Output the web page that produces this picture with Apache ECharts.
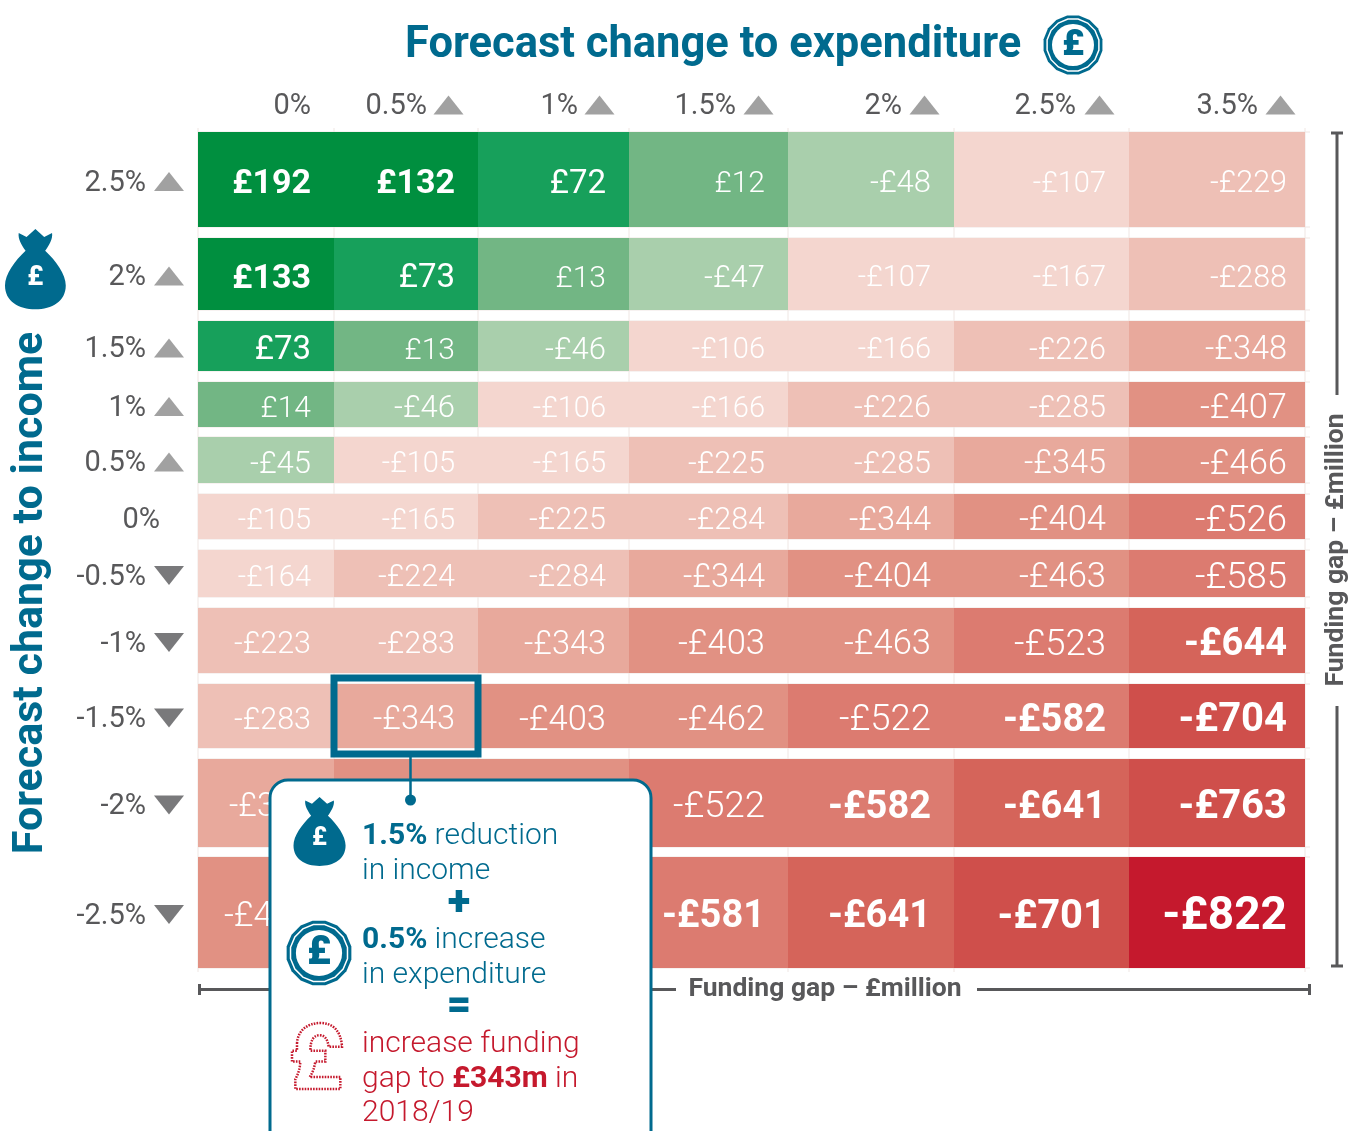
<!DOCTYPE html>
<html>
<head>
<meta charset="utf-8">
<style>html,body{margin:0;padding:0;background:#fff}#chart{width:1350px;height:1131px}</style>
<script src="https://cdn.jsdelivr.net/npm/echarts@6/dist/echarts.min.js"></script>
</head>
<body>
<div id="chart"></div>
<script>
// ---- data ----
const expenditureLabels = ['0%','0.5%','1%','1.5%','2%','2.5%','3.5%'];
const incomeLabels = ['2.5%','2%','1.5%','1%','0.5%','0%','-0.5%','-1%','-1.5%','-2%','-2.5%'];
const row_p25 = [192,132,72,12,-48,-107,-229];
const row_p20 = [133,73,13,-47,-107,-167,-288];
const row_p15 = [73,13,-46,-106,-166,-226,-348];
const row_p10 = [14,-46,-106,-166,-226,-285,-407];
const row_p05 = [-45,-105,-165,-225,-285,-345,-466];
const row_000 = [-105,-165,-225,-284,-344,-404,-526];
const row_m05 = [-164,-224,-284,-344,-404,-463,-585];
const row_m10 = [-223,-283,-343,-403,-463,-523,-644];
const row_m15 = [-283,-343,-403,-462,-522,-582,-704];
const row_m20 = [-342,-402,-462,-522,-582,-641,-763];
const row_m25 = [-401,-461,-521,-581,-641,-701,-822];
const rows = [row_p25,row_p20,row_p15,row_p10,row_p05,row_000,row_m05,row_m10,row_m15,row_m20,row_m25];
const highlighted = [1, 8];

// band edges on the (unevenly spaced) axes
const colEdges = [0,136,280,431,590,756,931,1107];
const rowTops = [0,106,189,250,305,362,418,476,552,627,725];
const rowBottoms = [95,178,239,295,351,407,465,541,616,715,836];

// colour / type bins, by lower bound of funding value
const binFloors = [130,50,10,-50,-170,-290,-350,-470,-590,-650,-770,-Infinity];
const binColours = ['#008f3f','#17a05b','#72b684','#a9cfac','#f4d6cf','#eec0b6','#e8a99c','#e19183','#dc7b70','#d5645a','#cf4f4b','#c5192d'];
const binSizes = [34,33,30,31,29,30.5,32.5,34.5,36.5,38,40,46];
const binWeights = [700,400,300,300,300,300,300,300,300,700,700,700];
const boldValues = [-581,-582];

const TEAL = '#006a8e', GREY = '#58585a', RED = '#c5192d', FONT = 'Roboto, "Liberation Sans", sans-serif';
const binOf = v => binFloors.findIndex(f => v >= f);
const cellData = [];
rows.forEach((r, ri) => r.forEach((v, ci) => cellData.push([ci, ri, v])));
const money = v => (v < 0 ? '-£' + (-v) : '£' + v);

// ---- axis anchors ----
const headerInsets = [23,51,51,52,52,53,47];
const headerAnchors = expenditureLabels.map((_, i) => colEdges[i + 1] - headerInsets[i]);
const rowCentres = incomeLabels.map((_, i) => (rowTops[i] + rowBottoms[i]) / 2 + 2);
const rowAnchors = rowCentres.map(c => c + 2);
const headerTriangles = expenditureLabels.slice(1).map((_, i) => [colEdges[i + 2] - (i === 5 ? 24.5 : 29.5), -27]);
const upTriangles = incomeLabels.map((l, i) => [l, i]).filter(d => parseFloat(d[0]) > 0).map(d => [-29, rowCentres[d[1]]]);
const downTriangles = incomeLabels.map((l, i) => [l, i]).filter(d => parseFloat(d[0]) < 0).map(d => [-29, rowCentres[d[1]]]);

// ---- icons ----
const bagPath = 'M14 5 L22 9 L31 1 L40 9 L48 5 C49 11 45 17 41 23 C52 33 62 47 62 58 C62 74 48 82 31 82 C14 82 0 74 0 58 C0 47 10 33 21 23 C17 17 13 11 14 5 Z';
const bagPlacements = [[5,229,0.98,27],[293.5,797,0.84,25]];
const poundPath = 'M320 1150 C322 1112 350 1088 390 1088 C428 1088 452 1112 455 1160 L415 1160 C412 1138 404 1125 388 1125 C370 1125 360 1140 360 1172 L405 1172 L405 1205 L375 1205 C372 1225 366 1240 358 1252 L450 1252 L450 1288 L315 1288 L315 1258 C324 1242 329 1225 330 1205 L305 1205 L305 1172 L320 1172 Z';
function ring(r) {
  const pts = [];
  for (let i = 0; i < 16; i++) { const a = (i + 0.5) * Math.PI / 8; pts.push([r * Math.cos(a), r * Math.sin(a)]); }
  return pts;
}
function coin(x, y, r, fs) {
  return {type:'group', x, y, children:[
    {type:'polygon', shape:{points:ring(r)}, style:{fill:TEAL}},
    {type:'polygon', shape:{points:ring(r*0.88)}, style:{fill:'none', stroke:'#fff', lineWidth:1.5}},
    {type:'circle', shape:{cx:0, cy:0, r:r*0.7}, style:{fill:'#fff'}},
    {type:'text', x:0, y:1, style:{text:'£', fill:TEAL, font:'900 '+fs+'px '+FONT, align:'center', verticalAlign:'middle'}}
  ]};
}
function raise(el) { el.z = 50; if (el.children) el.children.forEach(raise); return el; }
const hLine = (x1,x2,y) => ({type:'line', shape:{x1,y1:y,x2,y2:y}, style:{stroke:GREY, lineWidth:3}});
const vLine = (x,y1,y2) => ({type:'line', shape:{x1:x,y1,x2:x,y2}, style:{stroke:GREY, lineWidth:3}});
const calloutRich = {
  b:{fontFamily:FONT, fontWeight:700, fontSize:30, fill:TEAL},
  l:{fontFamily:FONT, fontWeight:300, fontSize:30, fill:TEAL},
  rb:{fontFamily:FONT, fontWeight:700, fontSize:30, fill:RED},
  r:{fontFamily:FONT, fontWeight:300, fontSize:30, fill:RED}
};
const ctext = (x,y,text) => ({type:'text', x, y, style:{text, rich:calloutRich, align:'left', verticalAlign:'middle'}});

const chart = echarts.init(document.getElementById('chart'), null, {renderer:'canvas'});
chart.setOption({
  animation:false,
  backgroundColor:'#fff',
  title:{text:'Forecast change to expenditure', left:400, top:19,
    textStyle:{color:TEAL, fontFamily:FONT, fontWeight:700, fontSize:43.5}},
  grid:{left:198, top:132, width:1107, height:836},
  xAxis:{type:'value', position:'top', min:0, max:1107,
    axisLine:{show:false}, axisTick:{show:false}, splitLine:{show:false},
    axisLabel:{customValues:headerAnchors, margin:11, align:'right', color:GREY,
      fontFamily:FONT, fontWeight:400, fontSize:29,
      formatter:v => expenditureLabels[headerAnchors.indexOf(v)]}},
  yAxis:{type:'value', inverse:true, min:0, max:836,
    axisLine:{show:false}, axisTick:{show:false}, splitLine:{show:false},
    axisLabel:{customValues:rowAnchors, margin:38, color:GREY,
      fontFamily:FONT, fontWeight:400, fontSize:29,
      formatter:v => { const l = incomeLabels[rowAnchors.indexOf(v)]; return l === '0%' ? l : '{s|' + l + '}'; },
      rich:{s:{padding:[0,14,0,0], color:GREY, fontFamily:FONT, fontWeight:400, fontSize:29}}}},
  series:[
    {type:'custom', name:'guides', coordinateSystem:'cartesian2d', silent:true, z:1, clip:false,
     data:colEdges.map((e, i) => [i, e]),
     renderItem:(p, api) => {
       const i = api.value(0), e = api.value(1);
       const a = api.coord([e, -4]), b = api.coord([e, 840]);
       const children = [{type:'line', shape:{x1:a[0],y1:a[1],x2:b[0],y2:b[1]}, style:{stroke:'#efe6e3', lineWidth:1}}];
       if (i === 0) rowTops.forEach((t, r) => {
         [t, rowBottoms[r]].forEach(y => {
           const c = api.coord([0, y]), d = api.coord([1112, y]);
           children.push({type:'line', shape:{x1:c[0],y1:c[1],x2:d[0],y2:d[1]}, style:{stroke:'#efe6e3', lineWidth:1}});
         });
       });
       return {type:'group', children};
     }},
    {type:'custom', name:'Funding gap', coordinateSystem:'cartesian2d', z:2, silent:true,
     data:cellData,
     encode:{x:0, y:1},
     renderItem:(p, api) => {
       const c = api.value(0), r = api.value(1), v = api.value(2);
       const a = api.coord([colEdges[c], rowTops[r]]), b = api.coord([colEdges[c + 1], rowBottoms[r]]);
       const k = binOf(v);
       const inset = c === 6 ? 18 : 23;
       const bold = boldValues.includes(v);
       return {type:'group', children:[
         {type:'rect', shape:{x:a[0], y:a[1], width:b[0]-a[0], height:b[1]-a[1]}, style:{fill:binColours[k]}},
         {type:'text', x:b[0]-inset, y:(a[1]+b[1])/2+5,
          style:{text:money(v), fill:'#fff', align:'right', verticalAlign:'middle',
                 font:(bold ? 700 : binWeights[k]) + ' ' + (bold ? 38 : binSizes[k]) + 'px ' + FONT}}
       ]};
     }},
    {type:'custom', name:'selected', coordinateSystem:'cartesian2d', z:100, silent:true, clip:false,
     data:[highlighted],
     renderItem:(p, api) => {
       const c = api.value(0), r = api.value(1);
       const a = api.coord([colEdges[c], rowTops[r]]), b = api.coord([colEdges[c + 1], rowBottoms[r]]);
       const cx = a[0] + 76.5;
       return {type:'group', children:[
         {type:'rect', shape:{x:a[0], y:a[1]-6, width:b[0]-a[0], height:b[1]-a[1]+12},
          style:{fill:'none', stroke:TEAL, lineWidth:7}},
         {type:'line', shape:{x1:cx, y1:b[1]+8, x2:cx, y2:b[1]+51}, style:{stroke:TEAL, lineWidth:2.5}},
         {type:'circle', shape:{cx, cy:b[1]+52, r:5.5}, style:{fill:TEAL}}
       ]};
     }},
    {type:'custom', name:'bags', coordinateSystem:'none', z:100, silent:true,
     data:bagPlacements,
     renderItem:(p, api) => {
       const x = api.value(0), y = api.value(1), s = api.value(2), fs = api.value(3);
       return {type:'group', children:[
         {type:'path', shape:{pathData:bagPath, layout:'cover', x, y, width:62*s, height:82*s}, style:{fill:TEAL}},
         {type:'text', x:x+31*s, y:y+50*s, style:{text:'£', fill:'#fff', font:'800 '+fs+'px '+FONT, align:'center', verticalAlign:'middle'}}
       ]};
     }},
    {type:'custom', name:'pound', coordinateSystem:'none', z:100, silent:true,
     data:[[292,1023,50,66]],
     renderItem:(p, api) => ({type:'path',
       shape:{pathData:poundPath, layout:'cover', x:api.value(0), y:api.value(1), width:api.value(2), height:api.value(3)},
       style:{fill:'none', stroke:RED, lineWidth:2.5, lineDash:[1.6,1.2]}})},
    {type:'scatter', name:'up', symbol:'triangle', symbolSize:[30,19], clip:false, silent:true, z:3,
     itemStyle:{color:'#8a8a8a'}, data:headerTriangles.concat(upTriangles)},
    {type:'scatter', name:'down', symbol:'triangle', symbolRotate:180, symbolSize:[30,19], clip:false, silent:true, z:3,
     itemStyle:{color:GREY}, data:downTriangles}
  ],
  graphic:{elements:[
    coin(1073,45,30,37),
    {type:'text', x:31, y:593, rotation:Math.PI/2, originX:0, originY:0,
     style:{text:'Forecast change to income', fill:TEAL, font:'700 43px '+FONT, align:'center', verticalAlign:'middle'}},
    // funding gap brackets
    hLine(199,676,989.5), vLine(199.5,984,995),
    hLine(977,1310,989.5), vLine(1309.5,984,995),
    {type:'text', x:825, y:989, style:{text:'Funding gap – £million', fill:GREY, font:'700 26.5px '+FONT, align:'center', verticalAlign:'middle'}},
    vLine(1337,133,395), hLine(1331,1343,133),
    vLine(1337,706,966), hLine(1331,1343,966),
    {type:'text', x:1336, y:550, rotation:Math.PI/2, originX:0, originY:0,
     style:{text:'Funding gap – £million', fill:GREY, font:'700 26.5px '+FONT, align:'center', verticalAlign:'middle'}},
    // callout
    {type:'rect', shape:{x:270,y:780,width:381,height:400,r:18}, style:{fill:'#fff', stroke:TEAL, lineWidth:3}},
    coin(319,953,33,40),
    ctext(362,836,'{b|1.5%}{l| reduction}'),
    ctext(362,871,'{l|in income}'),
    {type:'text', x:459, y:904, style:{text:'+', fill:TEAL, font:'900 42px '+FONT, align:'center', verticalAlign:'middle'}},
    ctext(362,940,'{b|0.5%}{l| increase}'),
    ctext(362,975,'{l|in expenditure}'),
    {type:'text', x:459, y:1007, style:{text:'=', fill:TEAL, font:'900 42px '+FONT, align:'center', verticalAlign:'middle'}},
    ctext(362,1044,'{r|increase funding}'),
    ctext(362,1079,'{r|gap to }{rb|£343m}{r| in}'),
    ctext(362,1113,'{r|2018/19}')
  ].map(raise)}
});
</script>
</body>
</html>
